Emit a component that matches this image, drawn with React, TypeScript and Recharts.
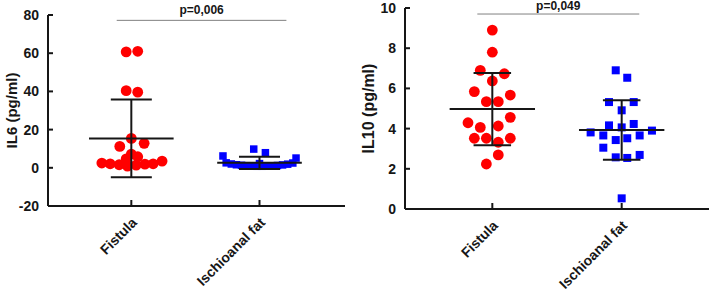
import { ReferenceLine, Scatter, ScatterChart, XAxis, YAxis } from 'recharts'

// category names shared by both panels
const groups = ['Fistula', 'Ischioanal fat']

// [horizontal jitter from the group centre, value]
const il6Fistula = [
  [-0.04, 60.7], [0.05, 61], [-0.04, 40.4], [0.05, 39.6], [0, 15.4], [-0.09, 11.2],
  [0.1, 12.8], [0, 7.2], [-0.04, 4.7], [0.05, 5.8], [-0.23, 2.5], [-0.165, 2.1],
  [-0.095, 1.6], [-0.03, 0.9], [0.038, 1.4], [0.106, 1.9], [0.17, 2.1], [0.24, 3.5],
]
const il6Fat = [
  [-0.045, 9.8], [0.046, 7.9], [-0.285, 6.2], [0.285, 5.1], [-0.26, 2.6], [-0.22, 2.0],
  [-0.18, 1.6], [-0.14, 1.3], [-0.1, 1.1], [-0.06, 0.9], [-0.02, 0.8], [0.02, 0.8],
  [0.06, 0.9], [0.1, 1.0], [0.14, 1.2], [0.18, 1.5], [0.22, 1.9], [0.26, 2.5], [0, 2.2],
]
const il10Fistula = [
  [0, 8.9], [0, 7.8], [-0.093, 6.9], [0.093, 6.73], [0, 6.37], [-0.139, 5.84],
  [0.139, 5.67], [-0.046, 5.34], [0.046, 5.34], [0.139, 4.56], [-0.188, 4.29], [-0.093, 4.06],
  [0.046, 4.13], [-0.139, 3.52], [-0.046, 3.52], [0.139, 3.52], [0.046, 3.32], [0.046, 2.69],
  [-0.046, 2.24],
]
const il10Fat = [
  [-0.046, 6.9], [0.043, 6.53], [-0.098, 5.32], [0.093, 5.32], [0, 4.91], [-0.098, 4.16],
  [0.093, 4.23], [0, 4.06], [-0.24, 3.81], [0.234, 3.9], [-0.142, 3.66], [0.139, 3.66],
  [-0.046, 3.43], [0.043, 3.52], [-0.142, 3.05], [-0.046, 2.57], [0.043, 2.54], [0.139, 2.69],
  [0, 0.53],
]

// mean and SD per group
const il6Mean = [15.4, 2.6]
const il6Sd = [20.4, 3.2]
const il10Mean = [4.97, 3.93]
const il10Sd = [1.8, 1.48]

const il6Ticks = [-20, 0, 20, 40, 60, 80]
const il10Ticks = [0, 2, 4, 6, 8, 10]

const FONT = '"Liberation Sans", Arial, sans-serif'
const INK = '#161616'

const toPoints = (rows: number[][], group: number) =>
  rows.map(([dx, v]) => ({ x: group + dx, y: v }))

const Dot = (p: any) => <circle cx={p.cx} cy={p.cy} r={5.4} fill="#ff0000" />
const makeSquare = (s: number) => (p: any) =>
  <rect x={p.cx - s / 2} y={p.cy - s / 2} width={s} height={s} fill="#0000ff" />

// ticks point inward, so both the mark and the label are drawn here
function XTick(p: any) {
  const tx = p.x + 3
  const ty = p.y + 14
  return (
    <g>
      <line x1={p.x} y1={p.y} x2={p.x} y2={p.y - 6} stroke={INK} strokeWidth={2} />
      <g transform={`translate(${tx} ${ty}) rotate(-45)`}>
        <text x={0} y={0} dy="0.35em" textAnchor="end" fill={INK} fontSize={14} fontWeight={700} fontFamily={FONT}>
          {groups[Number(p.payload?.value) - 1]}
        </text>
      </g>
    </g>
  )
}

function YTick(p: any) {
  return (
    <g>
      <line x1={p.x} y1={p.y} x2={p.x + 5} y2={p.y} stroke={INK} strokeWidth={2} />
      <text x={p.x - 9} y={p.y} dy="0.35em" textAnchor="end" fill={INK} fontSize={14} fontWeight={700} fontFamily={FONT}>
        {p.payload?.value}
      </text>
    </g>
  )
}

function MeanSd({ group, mean, sd, half, cap }: any) {
  const z = { zIndex: 700, ifOverflow: 'visible' as const, stroke: INK, strokeWidth: 2 }
  return [
    <ReferenceLine key={`m${group}`} {...z} segment={[{ x: group - half, y: mean }, { x: group + half, y: mean }]} />,
    <ReferenceLine key={`v${group}`} {...z} segment={[{ x: group, y: mean - sd }, { x: group, y: mean + sd }]} />,
    <ReferenceLine key={`u${group}`} {...z} segment={[{ x: group - cap, y: mean + sd }, { x: group + cap, y: mean + sd }]} />,
    <ReferenceLine key={`l${group}`} {...z} segment={[{ x: group - cap, y: mean - sd }, { x: group + cap, y: mean - sd }]} />,
  ]
}

interface PanelProps {
  width: number
  top: number
  axisWidth: number
  xHeight: number
  xDomain: [number, number]
  yDomain: [number, number]
  yTicks: number[]
  title: string
  titleSize: number
  titleDx: number
  fistula: number[][]
  fat: number[][]
  mean: number[]
  sd: number[]
  square: number
  cap: number
  pText: string
  pY: number
  pX: [number, number]
  pOffset: number
}

function Panel(p: PanelProps) {
  return (
    <ScatterChart
      width={p.width}
      height={299}
      margin={{ top: p.top, right: 0, bottom: 0, left: 0 }}
    >
      <XAxis
        type="number"
        dataKey="x"
        domain={p.xDomain}
        ticks={[1, 2]}
        height={p.xHeight}
        allowDataOverflow
        axisLine={{ stroke: INK, strokeWidth: 2 }}
        tickLine={false}
        tickSize={0}
        tickMargin={0}
        interval={0}
        tick={<XTick />}
      />
      <YAxis
        type="number"
        dataKey="y"
        domain={p.yDomain}
        ticks={p.yTicks}
        width={p.axisWidth}
        allowDataOverflow
        axisLine={{ stroke: INK, strokeWidth: 2 }}
        tickLine={false}
        tickSize={0}
        tickMargin={0}
        interval={0}
        tick={<YTick />}
        label={{
          value: p.title,
          angle: -90,
          position: 'center',
          dx: p.titleDx,
          fill: INK,
          fontSize: p.titleSize,
          fontWeight: 700,
          fontFamily: FONT,
        }}
      />
      <Scatter data={toPoints(p.fistula, 1)} shape={Dot} isAnimationActive={false} />
      <Scatter data={toPoints(p.fat, 2)} shape={makeSquare(p.square)} isAnimationActive={false} />
      {MeanSd({ group: 1, mean: p.mean[0], sd: p.sd[0], half: 0.33, cap: p.cap })}
      {MeanSd({ group: 2, mean: p.mean[1], sd: p.sd[1], half: 0.33, cap: p.cap })}
      <ReferenceLine
        segment={[{ x: p.pX[0], y: p.pY }, { x: p.pX[1], y: p.pY }]}
        stroke="#808080"
        strokeWidth={1}
        ifOverflow="visible"
        label={{
          value: p.pText,
          position: 'top',
          offset: p.pOffset,
          fill: INK,
          fontSize: 12,
          fontWeight: 700,
          fontFamily: FONT,
        }}
      />
    </ScatterChart>
  )
}

export default function App() {
  return (
    <div style={{ position: 'absolute', left: 0, top: 0, width: 709, height: 299, background: '#fff' }}>
      <div style={{ position: 'absolute', left: 0, top: 0 }}>
        <Panel
          width={345}
          top={15}
          axisWidth={48}
          xHeight={93}
          xDomain={[0.35, 2.667]}
          yDomain={[-20, 80]}
          yTicks={il6Ticks}
          title="IL6 (pg/ml)"
          titleSize={15}
          titleDx={-12}
          fistula={il6Fistula}
          fat={il6Fat}
          mean={il6Mean}
          sd={il6Sd}
          square={7.5}
          cap={0.16}
          pText="p=0,006"
          pY={77.2}
          pX={[0.886, 2.21]}
          pOffset={6}
        />
      </div>
      <div style={{ position: 'absolute', left: 360, top: 0 }}>
        <Panel
          width={349}
          top={8}
          axisWidth={45}
          xHeight={90}
          xDomain={[0.325, 2.675]}
          yDomain={[0, 10]}
          yTicks={il10Ticks}
          title="IL10 (pg/ml)"
          titleSize={16}
          titleDx={-14}
          fistula={il10Fistula}
          fat={il10Fat}
          mean={il10Mean}
          sd={il10Sd}
          square={8}
          cap={0.145}
          pText="p=0,049"
          pY={9.7}
          pX={[0.884, 2.136]}
          pOffset={4}
        />
      </div>
    </div>
  )
}
